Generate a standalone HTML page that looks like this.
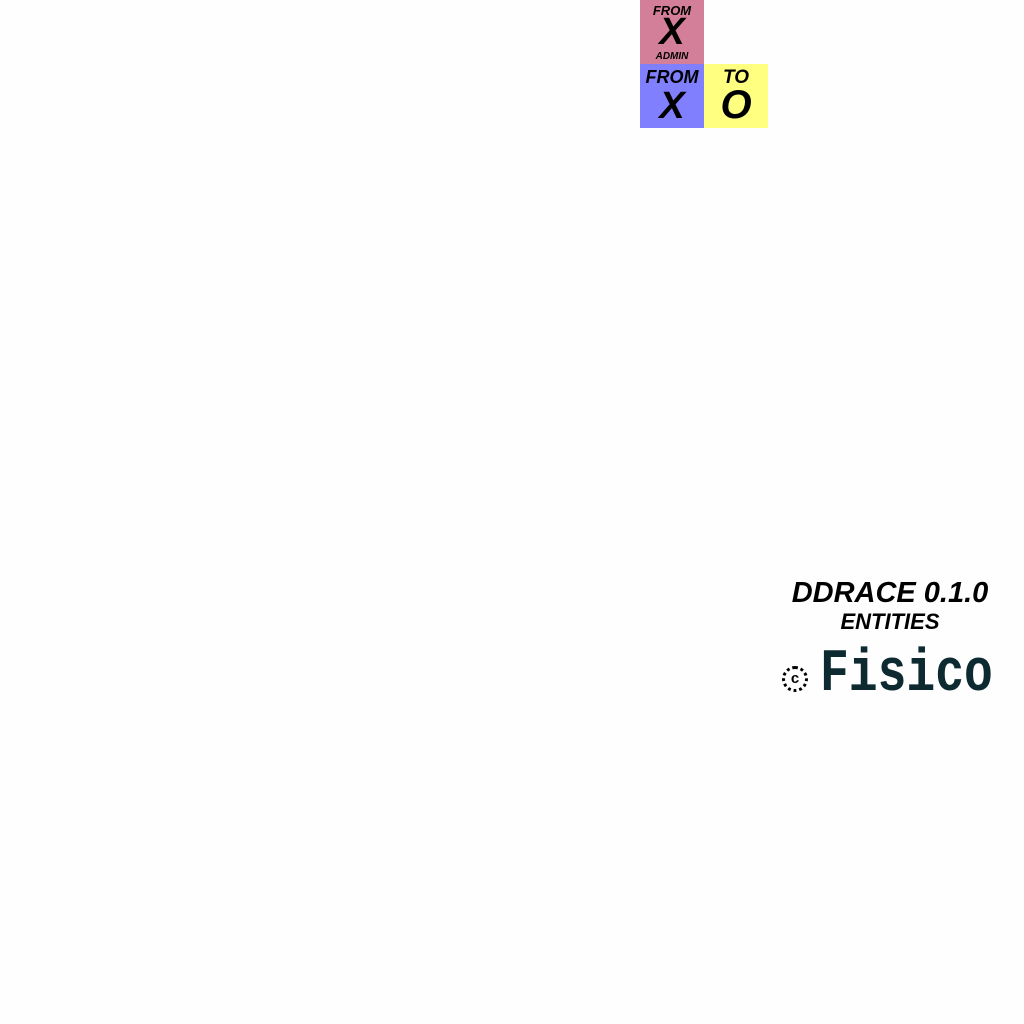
<!DOCTYPE html>
<html><head><style>
body{margin:0;width:1024px;height:1024px;background:#fefefe;position:relative;overflow:hidden;font-family:"Liberation Sans",sans-serif;}
.b{position:absolute;width:64px;height:64px;text-align:center;color:#000;font-weight:bold;font-style:italic;}
.t{position:absolute;left:0;width:100%;text-align:center;white-space:nowrap;}
</style></head><body>
<div class="b" style="left:640px;top:0;background:#d47f9a">
 <div class="t" style="top:3px;font-size:13px">FROM</div>
 <div class="t" style="top:12px;font-size:38px;line-height:40px">X</div>
 <div class="t" style="top:51px;font-size:10px">ADMIN</div>
</div>
<div class="b" style="left:640px;top:64px;background:#8080ff">
 <div class="t" style="top:3px;font-size:18px">FROM</div>
 <div class="t" style="top:22px;font-size:38px;line-height:40px">X</div>
</div>
<div class="b" style="left:704px;top:64px;background:#ffff80">
 <div class="t" style="top:3px;font-size:19px">TO</div>
 <div class="t" style="top:20px;font-size:40px;line-height:42px">O</div>
</div>
<div style="position:absolute;left:780px;top:576px;width:220px;text-align:center;white-space:nowrap;font-weight:bold;font-style:italic;font-size:29px;line-height:34px">DDRACE 0.1.0</div>
<div style="position:absolute;left:800px;top:609px;width:180px;text-align:center;white-space:nowrap;font-weight:bold;font-style:italic;font-size:22px;line-height:26px">ENTITIES</div>
<div style="position:absolute;left:782px;top:666px;width:26px;height:26px;border:3px dotted #000;border-radius:50%;box-sizing:border-box;font-size:15px;font-weight:bold;text-align:center;line-height:20px">c</div>
<div style="position:absolute;left:820px;top:640px;white-space:nowrap;font-family:'Liberation Mono',monospace;font-weight:bold;font-size:48px;line-height:56px;color:#0c2a30;transform:scaleY(1.25);transform-origin:top left">Fisico</div>
</body></html>
